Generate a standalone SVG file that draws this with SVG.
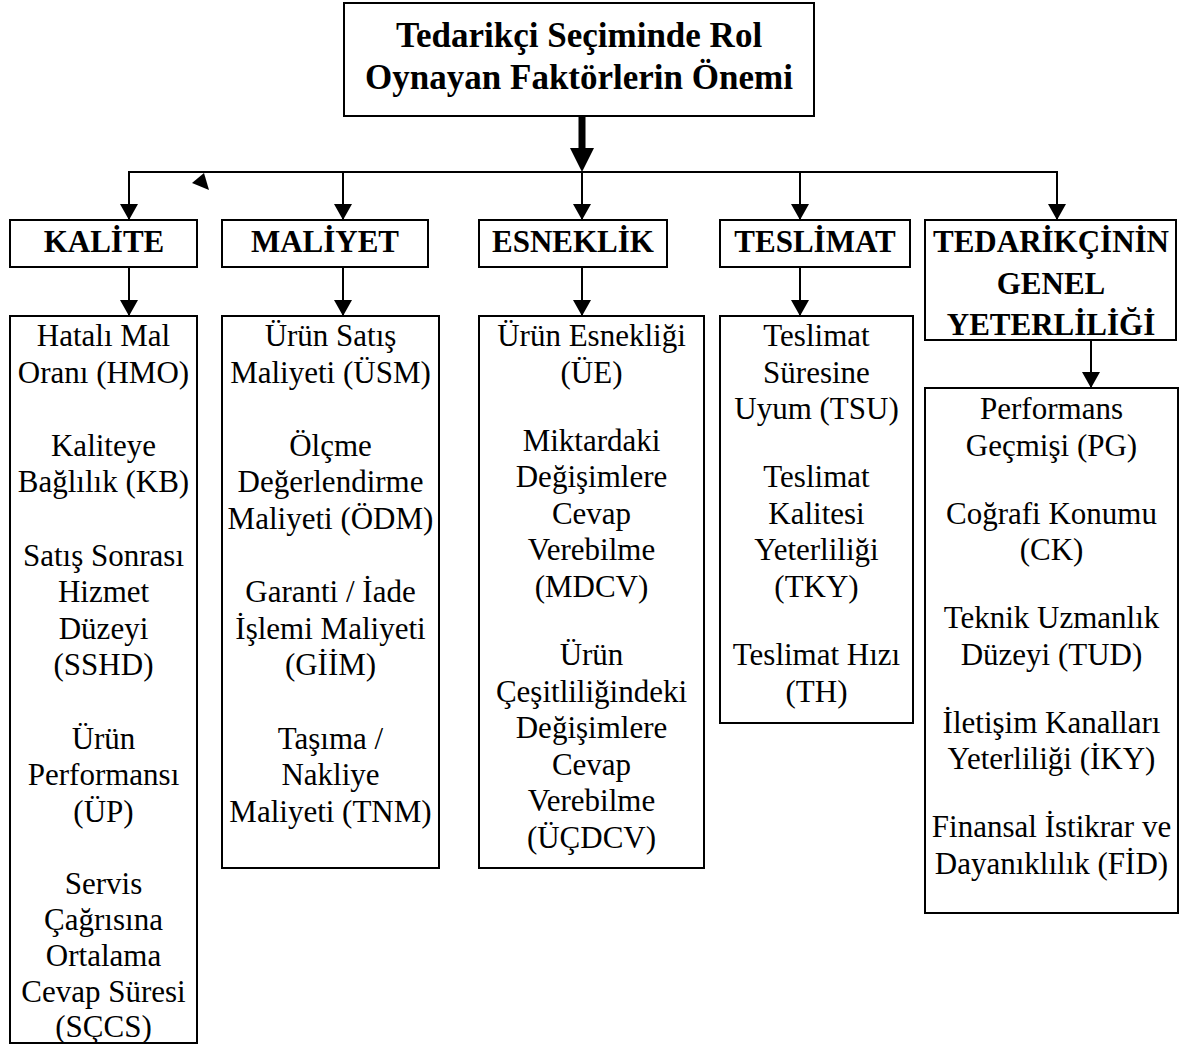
<svg xmlns="http://www.w3.org/2000/svg" width="1181" height="1045" viewBox="0 0 1181 1045">
<style>
.box{fill:#fff;stroke:#000;stroke-width:2}
.t{font-family:"Liberation Serif","Times New Roman",serif;font-size:31px;fill:#000;text-anchor:middle}
.h{font-family:"Liberation Serif","Times New Roman",serif;font-size:31px;font-weight:bold;fill:#000;text-anchor:middle}
.ti{font-family:"Liberation Serif","Times New Roman",serif;font-size:35px;font-weight:bold;fill:#000;text-anchor:middle}
.c{stroke:#000;stroke-width:2;fill:none}
</style>
<defs>
<marker id="ah" markerWidth="16" markerHeight="18" refX="16" refY="9" orient="auto" markerUnits="userSpaceOnUse"><path d="M0,0 L16,9 L0,18 z" fill="#000"/></marker>
</defs>
<rect width="1181" height="1045" fill="#fff"/>
<g id="connectors">
<rect x="578.5" y="116" width="7" height="34" fill="#000"/>
<polygon points="570,148 594,148 582,172" fill="#000"/>
<line class="c" x1="128" y1="172" x2="1057" y2="172"/>
<line class="c" x1="129" y1="172" x2="129" y2="220" marker-end="url(#ah)"/>
<line class="c" x1="343" y1="172" x2="343" y2="220" marker-end="url(#ah)"/>
<line class="c" x1="582" y1="172" x2="582" y2="220" marker-end="url(#ah)"/>
<line class="c" x1="800" y1="172" x2="800" y2="220" marker-end="url(#ah)"/>
<line class="c" x1="1057" y1="171" x2="1057" y2="220" marker-end="url(#ah)"/>
<polygon points="192,183 204,173 209,190" fill="#000"/>
<line class="c" x1="129" y1="267" x2="129" y2="316" marker-end="url(#ah)"/>
<line class="c" x1="343" y1="267" x2="343" y2="316" marker-end="url(#ah)"/>
<line class="c" x1="582" y1="267" x2="582" y2="316" marker-end="url(#ah)"/>
<line class="c" x1="800" y1="267" x2="800" y2="316" marker-end="url(#ah)"/>
<line class="c" x1="1091" y1="340" x2="1091" y2="388" marker-end="url(#ah)"/>
</g>
<g id="title">
<rect class="box" x="344" y="3" width="470" height="113"/>
<text class="ti" x="579" y="47">Tedarikçi Seçiminde Rol</text>
<text class="ti" x="579" y="89">Oynayan Faktörlerin Önemi</text>
</g>
<g id="kalite">
<rect class="box" x="10" y="220" width="187" height="47"/>
<text class="h" x="104" y="252">KALİTE</text>
</g>
<g id="maliyet">
<rect class="box" x="222" y="220" width="206" height="47"/>
<text class="h" x="325" y="252">MALİYET</text>
</g>
<g id="esneklik">
<rect class="box" x="479" y="220" width="188" height="47"/>
<text class="h" x="573" y="252">ESNEKLİK</text>
</g>
<g id="teslimat">
<rect class="box" x="720" y="220" width="190" height="47"/>
<text class="h" x="815" y="252">TESLİMAT</text>
</g>
<g id="tedarikci">
<rect class="box" x="925" y="220" width="251" height="120"/>
<text class="h" x="1051" y="252">TEDARİKÇİNİN</text>
<text class="h" x="1051" y="294">GENEL</text>
<text class="h" x="1051" y="335">YETERLİLİĞİ</text>
</g>
<g id="kalite-items">
<rect class="box" x="10" y="316" width="187" height="727"/>
<text class="t" x="103.5" y="346">Hatalı Mal</text>
<text class="t" x="103.5" y="382.6">Oranı (HMO)</text>
<text class="t" x="103.5" y="455.8">Kaliteye</text>
<text class="t" x="103.5" y="492.4">Bağlılık (KB)</text>
<text class="t" x="103.5" y="565.6">Satış Sonrası</text>
<text class="t" x="103.5" y="602.2">Hizmet</text>
<text class="t" x="103.5" y="638.8">Düzeyi</text>
<text class="t" x="103.5" y="675.4">(SSHD)</text>
<text class="t" x="103.5" y="748.6">Ürün</text>
<text class="t" x="103.5" y="785.2">Performansı</text>
<text class="t" x="103.5" y="821.8">(ÜP)</text>
<text class="t" x="103.5" y="894">Servis</text>
<text class="t" x="103.5" y="930">Çağrısına</text>
<text class="t" x="103.5" y="966">Ortalama</text>
<text class="t" x="103.5" y="1002">Cevap Süresi</text>
<text class="t" x="103.5" y="1037">(SÇCS)</text>
</g>
<g id="maliyet-items">
<rect class="box" x="222" y="316" width="217" height="552"/>
<text class="t" x="330.5" y="346">Ürün Satış</text>
<text class="t" x="330.5" y="382.6">Maliyeti (ÜSM)</text>
<text class="t" x="330.5" y="455.8">Ölçme</text>
<text class="t" x="330.5" y="492.4">Değerlendirme</text>
<text class="t" x="330.5" y="529">Maliyeti (ÖDM)</text>
<text class="t" x="330.5" y="602.2">Garanti / İade</text>
<text class="t" x="330.5" y="638.8">İşlemi Maliyeti</text>
<text class="t" x="330.5" y="675.4">(GİİM)</text>
<text class="t" x="330.5" y="748.6">Taşıma /</text>
<text class="t" x="330.5" y="785.2">Nakliye</text>
<text class="t" x="330.5" y="821.8">Maliyeti (TNM)</text>
</g>
<g id="esneklik-items">
<rect class="box" x="479" y="316" width="225" height="552"/>
<text class="t" x="591.5" y="346">Ürün Esnekliği</text>
<text class="t" x="591.5" y="382.6">(ÜE)</text>
<text class="t" x="591.5" y="450.6">Miktardaki</text>
<text class="t" x="591.5" y="487.2">Değişimlere</text>
<text class="t" x="591.5" y="523.8">Cevap</text>
<text class="t" x="591.5" y="560.4">Verebilme</text>
<text class="t" x="591.5" y="597">(MDCV)</text>
<text class="t" x="591.5" y="665">Ürün</text>
<text class="t" x="591.5" y="701.6">Çeşitliliğindeki</text>
<text class="t" x="591.5" y="738.2">Değişimlere</text>
<text class="t" x="591.5" y="774.8">Cevap</text>
<text class="t" x="591.5" y="811.4">Verebilme</text>
<text class="t" x="591.5" y="848">(ÜÇDCV)</text>
</g>
<g id="teslimat-items">
<rect class="box" x="720" y="316" width="193" height="407"/>
<text class="t" x="816.5" y="346">Teslimat</text>
<text class="t" x="816.5" y="382.6">Süresine</text>
<text class="t" x="816.5" y="419.2">Uyum (TSU)</text>
<text class="t" x="816.5" y="487.2">Teslimat</text>
<text class="t" x="816.5" y="523.8">Kalitesi</text>
<text class="t" x="816.5" y="560.4">Yeterliliği</text>
<text class="t" x="816.5" y="597">(TKY)</text>
<text class="t" x="816.5" y="665">Teslimat Hızı</text>
<text class="t" x="816.5" y="701.6">(TH)</text>
</g>
<g id="tedarikci-items">
<rect class="box" x="925" y="388" width="253" height="525"/>
<text class="t" x="1051.5" y="419">Performans</text>
<text class="t" x="1051.5" y="455.6">Geçmişi (PG)</text>
<text class="t" x="1051.5" y="523.6">Coğrafi Konumu</text>
<text class="t" x="1051.5" y="560.2">(CK)</text>
<text class="t" x="1051.5" y="628.2">Teknik Uzmanlık</text>
<text class="t" x="1051.5" y="664.8">Düzeyi (TUD)</text>
<text class="t" x="1051.5" y="732.8">İletişim Kanalları</text>
<text class="t" x="1051.5" y="769.4">Yeterliliği (İKY)</text>
<text class="t" x="1051.5" y="837.4">Finansal İstikrar ve</text>
<text class="t" x="1051.5" y="874">Dayanıklılık (FİD)</text>
</g>
</svg>
